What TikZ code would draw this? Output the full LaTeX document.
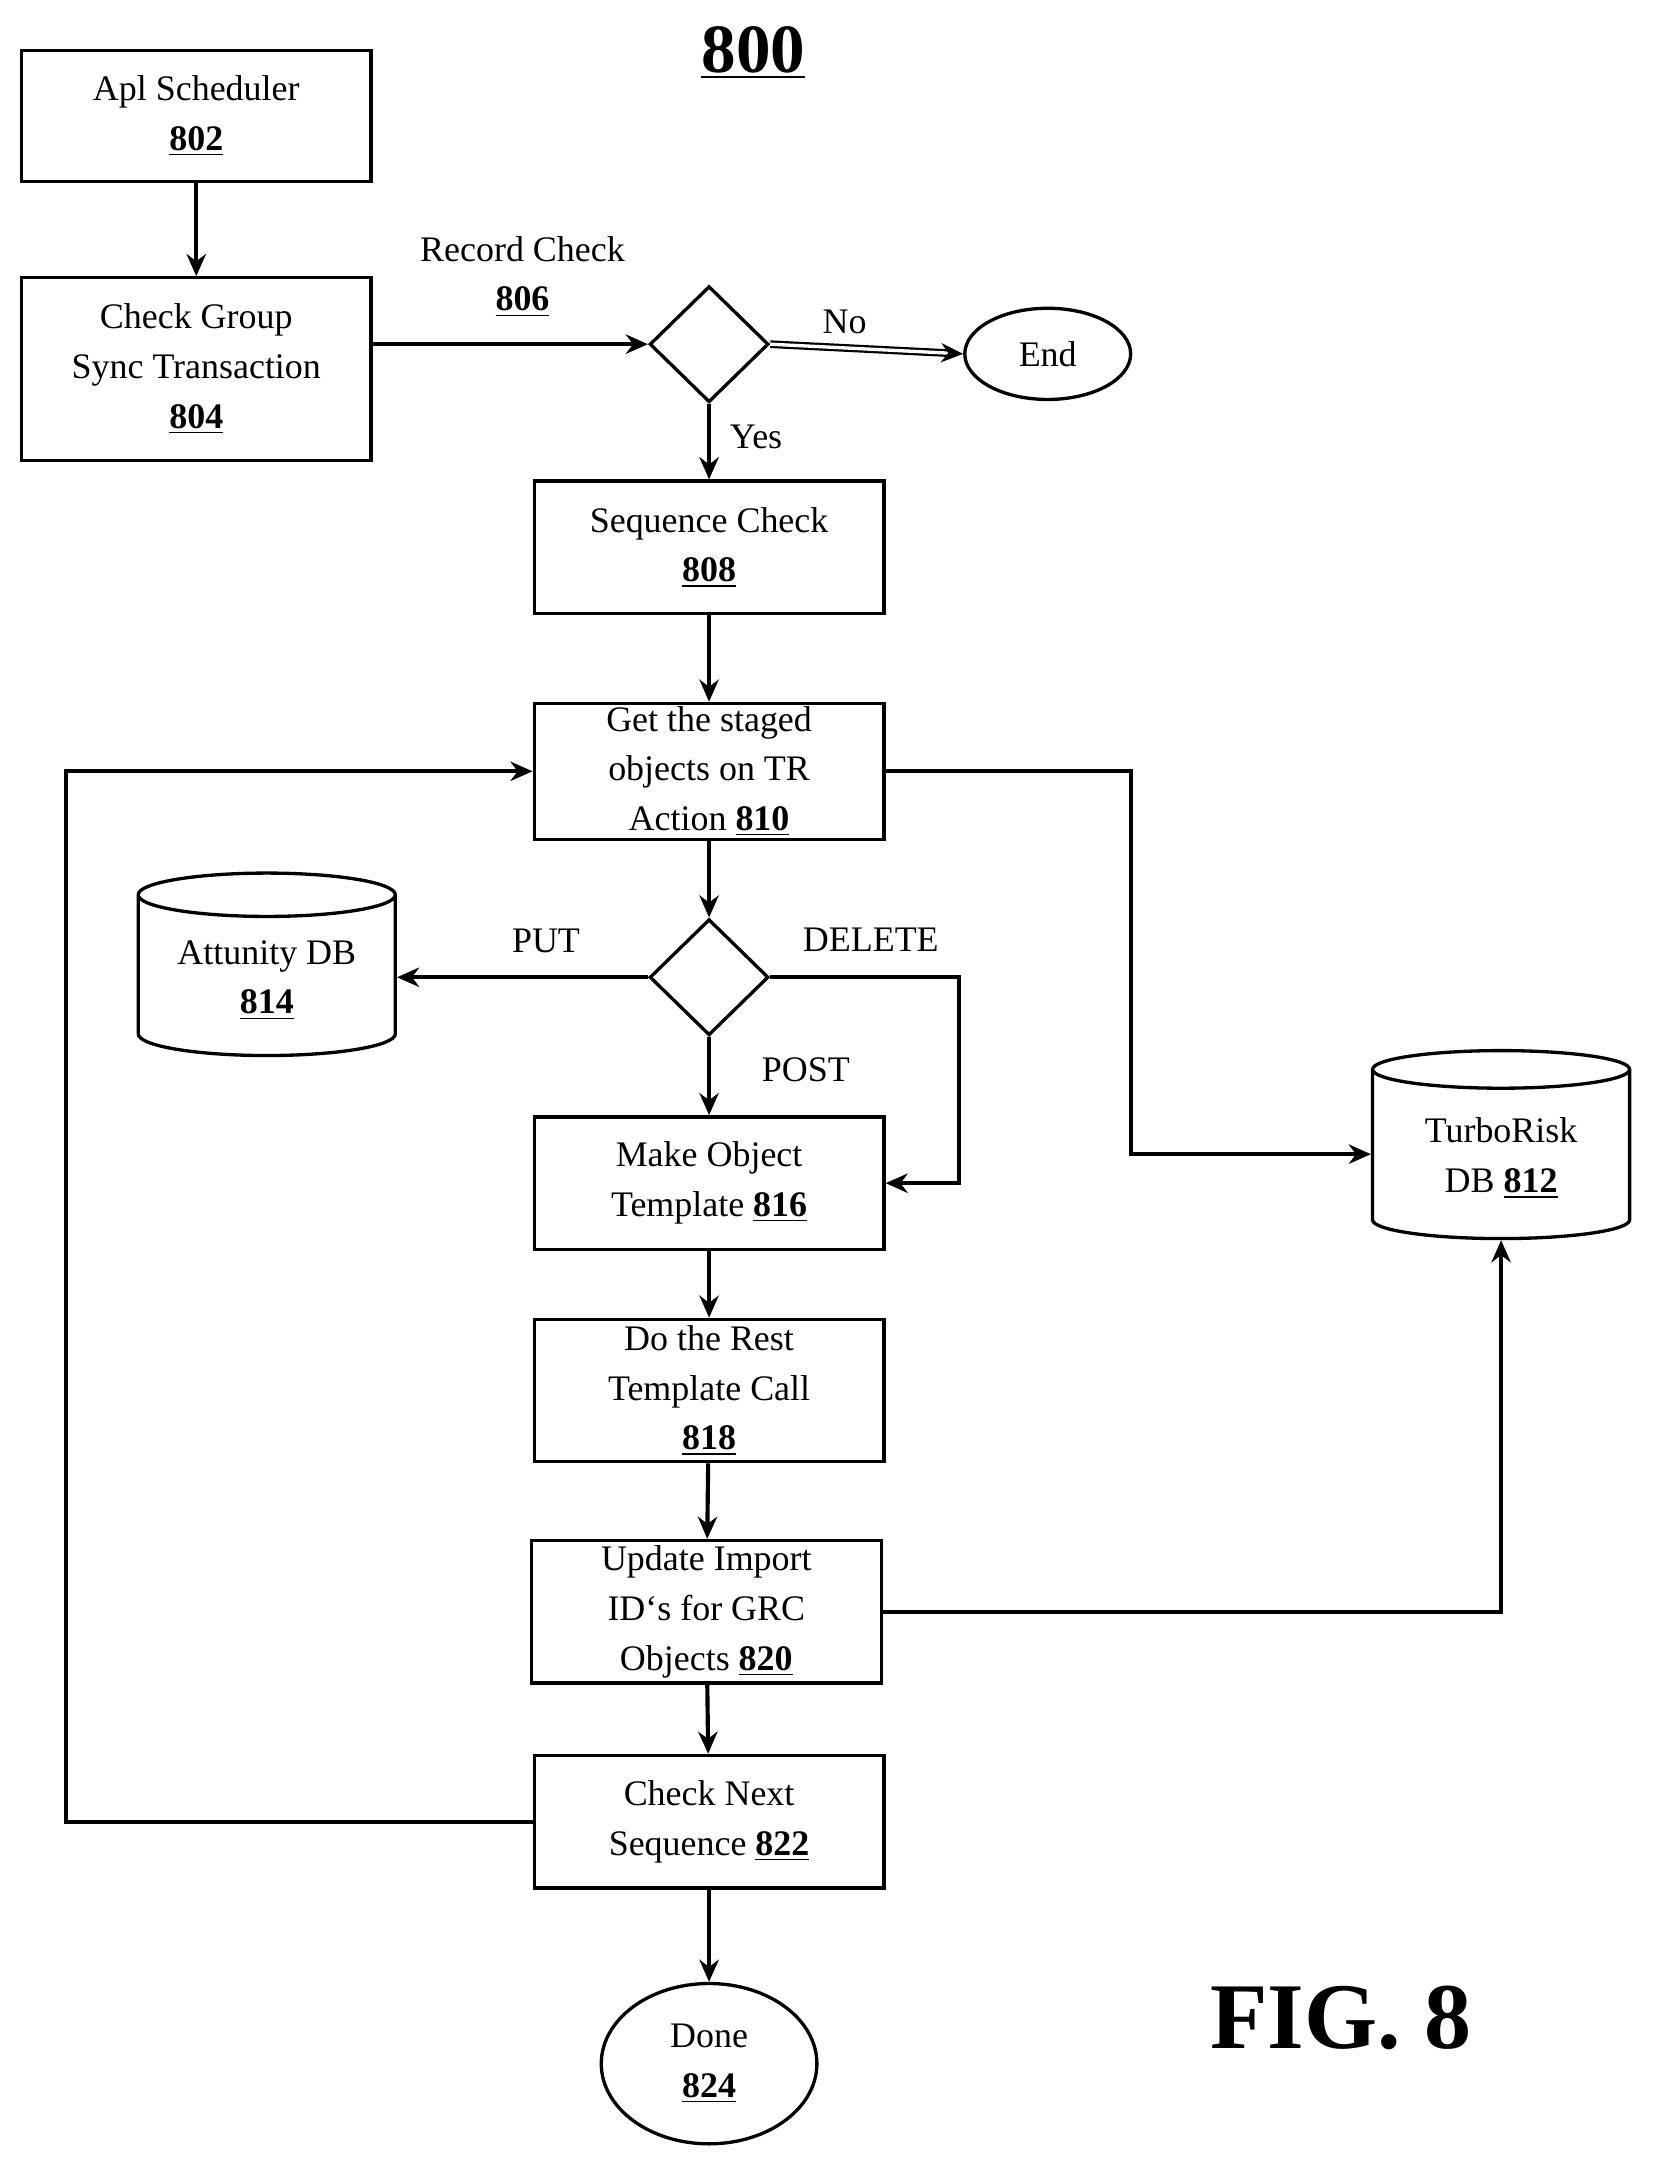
\documentclass[tikz,border=0pt]{standalone}
\usepackage{fontspec}
\setmainfont{Liberation Serif}
\usetikzlibrary{arrows.meta,shapes.geometric}
\newcommand{\refnum}[1]{\underline{\textbf{#1}}}
\tikzset{every picture/.style={line width=1.5pt},
  stepbox/.style={draw,line width=1.2pt,minimum width=126.5pt,align=center,inner sep=1pt,font=\fontsize{13}{18}\selectfont},
  choice/.style={draw,line width=1.2pt,diamond,minimum width=43pt,minimum height=42pt,inner sep=0pt},
  store/.style={draw,line width=1.2pt,cylinder,shape border rotate=90,aspect=0.22,minimum width=93pt,minimum height=66pt,align=center,font=\fontsize{13}{18}\selectfont},
  term/.style={draw,line width=1.2pt,ellipse,align=center,font=\fontsize{13}{18}\selectfont},
  tag/.style={font=\fontsize{13}{18}\selectfont,align=center},
  flow/.style={-{Stealth[length=8pt,width=7pt]}}}
\begin{document}
\begin{tikzpicture}[x=0.5pt,y=-0.5pt]
\useasboundingbox (0,0) rectangle (1200,1575);

%title
\node[font=\fontsize{25}{28}\selectfont\bfseries] (title) at (545,38) {\underline{800}};
\node[font=\fontsize{34}{38}\selectfont\bfseries] (fig) at (970,1460) {FIG. 8};

%boxes
\node[stepbox,minimum height=47.5pt] (sched) at (142,84) {Apl Scheduler\\ \refnum{802}};
\node[stepbox,minimum height=66pt] (sync) at (142,267) {Check Group\\Sync Transaction\\ \refnum{804}};
\node[choice] (rec) at (513,249) {};
\node[tag] (reclbl) at (378,200) {Record Check\\ \refnum{806}};
\node[term,minimum width=60pt,minimum height=33pt] (end) at (758,256) {End};
\node[stepbox,minimum height=48pt] (seq) at (513,396) {Sequence Check\\ \refnum{808}};
\node[stepbox,minimum height=48pt] (stage) at (513,558) {Get the staged\\objects on TR\\Action \refnum{810}};
\node[choice] (act) at (513,707) {};
\node[store] (att) at (193,709) {Attunity DB\\ \refnum{814}};
\node[store,minimum height=68pt] (turbo) at (1086,838) {TurboRisk\\DB \refnum{812}};
\node[stepbox,minimum height=48pt] (tmpl) at (513,856) {Make Object\\Template \refnum{816}};
\node[stepbox,minimum height=51.5pt] (rest) at (513,1006) {Do the Rest\\Template Call\\ \refnum{818}};
\node[stepbox,minimum height=51.5pt] (upd) at (511,1166) {Update Import\\ID`s for GRC\\Objects \refnum{820}};
\node[stepbox,minimum height=48pt] (next) at (513,1318) {Check Next\\Sequence \refnum{822}};
\node[term,minimum width=78pt,minimum height=58pt] (done) at (513,1493) {Done\\ \refnum{824}};

%labels
\node[tag] (no) at (611,233) {No};
\node[tag] (yes) at (547,316) {Yes};
\node[tag] (put) at (395,681) {PUT};
\node[tag] (del) at (630,680) {DELETE};
\node[tag] (post) at (583,774) {POST};

%connectors
\draw[flow] (sched) -- (sync);
\draw[flow] (sync.east |- rec) -- (rec.west);
\draw[flow,double,line width=0.8pt,double distance=1.2pt] (rec.east) -- (end.west);
\draw[flow] (rec.south) -- (seq.north);
\draw[flow] (seq) -- (stage);
\draw[flow] (stage) -- (act);
\draw[flow] (act.west) -- (att.east |- act);
\draw[flow] (act.south) -- (tmpl.north);
\draw[flow] (act.east) -| (694,856) -- (tmpl.east);
\draw[flow] (stage.east) -| (818,835) -- (turbo.west |- 818,835);
\draw[flow] (tmpl) -- (rest);
\draw[flow] (rest) -- (upd);
\draw[flow] (upd.east) -| (turbo.south);
\draw[flow] (upd) -- (next);
\draw[flow] (next.west) -| (48,558) -- (stage.west);
\draw[flow] (next) -- (done);
\end{tikzpicture}
\end{document}
